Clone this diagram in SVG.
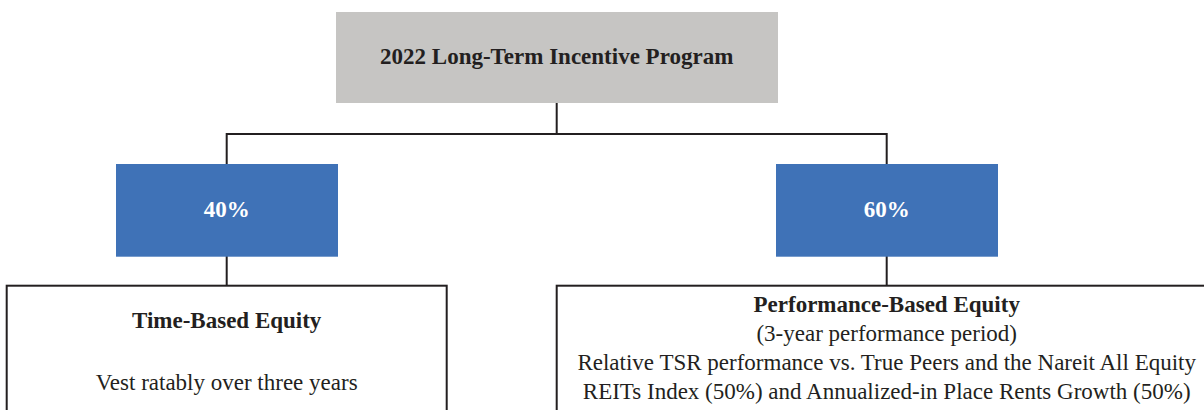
<svg xmlns="http://www.w3.org/2000/svg" width="1204" height="410" viewBox="0 0 1204 410">
  <style>
    text { font-family: 'Liberation Serif', 'Times New Roman', serif; font-size: 23px; fill: #231f20; text-anchor: middle; }
    .b { font-weight: bold; }
    .w { fill: #ffffff; }
    .conn { stroke: #231f20; stroke-width: 2; fill: none; }
    .box { fill: #ffffff; stroke: #231f20; stroke-width: 2; }
    .blue { fill: #3f72b7; }
    .grey { fill: #c6c5c3; }
  </style>
  <rect width="1204" height="410" fill="#ffffff"/>
  <g id="connectors">
    <line class="conn" x1="556.7" y1="103" x2="556.7" y2="134"/>
    <polyline class="conn" points="226.7,164 226.7,134 886.7,134 886.7,164"/>
    <line class="conn" x1="226.7" y1="256" x2="226.7" y2="286"/>
    <line class="conn" x1="886.7" y1="256" x2="886.7" y2="286"/>
  </g>
  <g id="program">
    <rect class="grey" x="336" y="12" width="442" height="91"/>
    <text class="b" x="556.7" y="63.5">2022 Long-Term Incentive Program</text>
  </g>
  <g id="pct40">
    <rect class="blue" x="116" y="164" width="222" height="92.7"/>
    <text class="b w" x="226.7" y="217">40%</text>
  </g>
  <g id="pct60">
    <rect class="blue" x="776" y="164" width="222" height="92.7"/>
    <text class="b w" x="886.7" y="217">60%</text>
  </g>
  <g id="time-based">
    <rect class="box" x="6.7" y="285.7" width="440" height="140"/>
    <text class="b" x="226.7" y="328">Time-Based Equity</text>
    <text x="226.7" y="390">Vest ratably over three years</text>
  </g>
  <g id="performance-based">
    <rect class="box" x="556.7" y="285.7" width="660" height="140"/>
    <text class="b" x="886.7" y="311.5">Performance-Based Equity</text>
    <text x="886.7" y="340.5">(3-year performance period)</text>
    <text x="886.7" y="370">Relative TSR performance vs. True Peers and the Nareit All Equity</text>
    <text x="886.7" y="399">REITs Index (50%) and Annualized-in Place Rents Growth (50%)</text>
  </g>
</svg>
